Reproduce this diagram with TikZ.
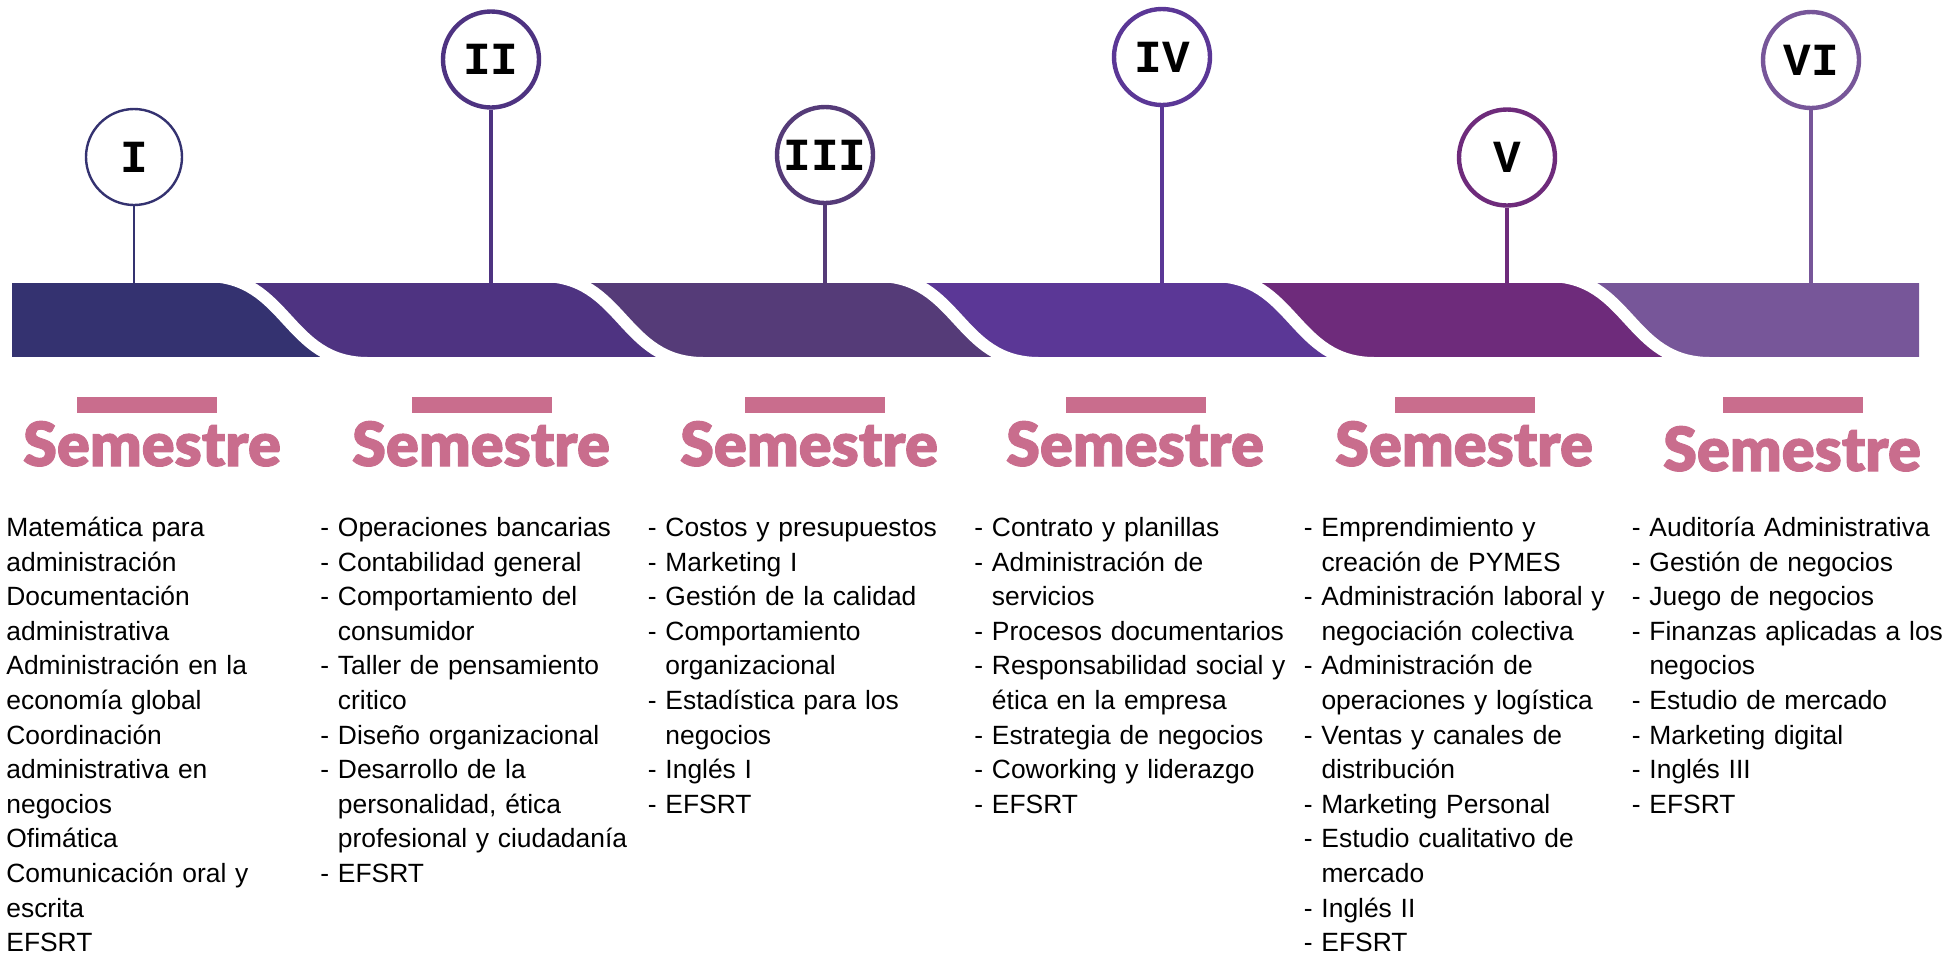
\documentclass[tikz,border=0pt]{standalone}
\usepackage{fontspec}
\setmainfont{Liberation Sans}
\newfontfamily\numfont{Liberation Mono}[BoldFont={* Bold}]
\newfontfamily\semfont{Lato Black}[FakeBold=1.6]
\usetikzlibrary{positioning}

\definecolor{sem-a}{RGB}{52,50,112}
\definecolor{sem-b}{RGB}{78,51,129}
\definecolor{sem-c}{RGB}{85,59,120}
\definecolor{sem-d}{RGB}{91,55,150}
\definecolor{sem-e}{RGB}{110,43,123}
\definecolor{sem-f}{RGB}{119,86,153}
\definecolor{rose}{RGB}{201,109,141}

\newcommand{\contline}{\phantom{- }}

\tikzset{
  ring/.style={circle,draw=#1,fill=white,line width=2.2pt,minimum size=48pt,inner sep=0pt,
               font=\numfont\bfseries\fontsize{23}{23}\selectfont},
  stem/.style={draw=#1,line width=2pt},
  cut/.style={white,line width=6pt},
  rosebar/.style={fill=rose,minimum width=70pt,minimum height=8pt,inner sep=0pt},
  semtitle/.style={text=rose,anchor=base,inner sep=0pt,font=\semfont\fontsize{30.5}{30.5}\selectfont},
  course/.style={anchor=base west,inner sep=0pt,text width=175pt,align=left,
                 font=\fontsize{13.2}{17.3}\selectfont}
}

\begin{document}
\begin{tikzpicture}[x=0.5pt,y=-0.5pt]  %1 unit = 1 px of the sheet, y grows downwards
    \useasboundingbox (0,0) rectangle (1945,955);
    \def\bendlen{162};  \def\bendctl{82};   %s-bend length and control reach

    %--- band of six segments, clipped to its strip
    \begin{scope}
    \clip (12,283) rectangle (1919,356);
    \def\xb{206};
    \fill[sem-a] (0,276) -- (0,363) -- (\xb+\bendlen,363) .. controls (\xb+\bendlen-\bendctl,363) and (\xb+\bendctl,276) .. (\xb,276) -- cycle;

    \def\xa{206};  \def\xb{541.5};
    \fill[sem-b] (\xa,276) .. controls (\xa+\bendctl,276) and (\xa+\bendlen-\bendctl,363) .. (\xa+\bendlen,363)
        -- (\xb+\bendlen,363) .. controls (\xb+\bendlen-\bendctl,363) and (\xb+\bendctl,276) .. (\xb,276) -- cycle;

    \def\xa{541.5};  \def\xb{877};
    \fill[sem-c] (\xa,276) .. controls (\xa+\bendctl,276) and (\xa+\bendlen-\bendctl,363) .. (\xa+\bendlen,363)
        -- (\xb+\bendlen,363) .. controls (\xb+\bendlen-\bendctl,363) and (\xb+\bendctl,276) .. (\xb,276) -- cycle;

    \def\xa{877};  \def\xb{1212.5};
    \fill[sem-d] (\xa,276) .. controls (\xa+\bendctl,276) and (\xa+\bendlen-\bendctl,363) .. (\xa+\bendlen,363)
        -- (\xb+\bendlen,363) .. controls (\xb+\bendlen-\bendctl,363) and (\xb+\bendctl,276) .. (\xb,276) -- cycle;

    \def\xa{1212.5};  \def\xb{1548};
    \fill[sem-e] (\xa,276) .. controls (\xa+\bendctl,276) and (\xa+\bendlen-\bendctl,363) .. (\xa+\bendlen,363)
        -- (\xb+\bendlen,363) .. controls (\xb+\bendlen-\bendctl,363) and (\xb+\bendctl,276) .. (\xb,276) -- cycle;

    \def\xa{1548};
    \fill[sem-f] (\xa,276) .. controls (\xa+\bendctl,276) and (\xa+\bendlen-\bendctl,363) .. (\xa+\bendlen,363)
        -- (1930,363) -- (1930,276) -- cycle;

    %white gaps between the segments
    \foreach \xa in {206,541.5,877,1212.5,1548}
        \draw[cut] (\xa,276) .. controls (\xa+\bendctl,276) and (\xa+\bendlen-\bendctl,363) .. (\xa+\bendlen,363);
    \end{scope}

    %--- markers: ring, stem to the band top
    \node[ring=sem-a,line width=1.2pt] (r1) at (134,157) {I};
    \node[ring=sem-b] (r2) at (491,59.5) {II};
    \node[ring=sem-c] (r3) at (825,155) {III};
    \node[ring=sem-d] (r4) at (1162,57) {IV};
    \node[ring=sem-e] (r5) at (1507,157.5) {V};
    \node[ring=sem-f] (r6) at (1811,60) {VI};
    \coordinate (t1) at (134,283);   \coordinate (t2) at (491,283);
    \coordinate (t3) at (825,283);   \coordinate (t4) at (1162,283);
    \coordinate (t5) at (1507,283);  \coordinate (t6) at (1811,283);
    \draw[stem=sem-a,line width=1.2pt] (r1) -- (t1);
    \draw[stem=sem-b] (r2) -- (t2);
    \draw[stem=sem-c] (r3) -- (t3);
    \draw[stem=sem-d] (r4) -- (t4);
    \draw[stem=sem-e,line width=1.8pt] (r5) -- (t5);
    \draw[stem=sem-f,line width=1.8pt] (r6) -- (t6);

    %--- headings
    \node[rosebar] (b1) at (147,405) {};   \node[semtitle] (h1) at (152,466) {Semestre};
    \node[rosebar] (b2) at (482,405) {};   \node[semtitle] (h2) at (481,466) {Semestre};
    \node[rosebar] (b3) at (815,405) {};   \node[semtitle] (h3) at (809,466) {Semestre};
    \node[rosebar] (b4) at (1136,405) {};  \node[semtitle] (h4) at (1135,466) {Semestre};
    \node[rosebar] (b5) at (1465,405) {};  \node[semtitle] (h5) at (1464,466) {Semestre};
    \node[rosebar] (b6) at (1793,405) {};  \node[semtitle] (h6) at (1792,471) {Semestre};

    %--- course lists
    \node[course] (l1) at (6,536.5) {Matemática para\\administración\\Documentación\\administrativa\\
        Administración en la\\economía global\\Coordinación\\administrativa en\\negocios\\Ofimática\\
        Comunicación oral y\\escrita\\EFSRT};
    \node[course] (l2) at (320,536.5) {- Operaciones bancarias\\- Contabilidad general\\- Comportamiento del\\
        \contline consumidor\\- Taller de pensamiento\\\contline critico\\- Diseño organizacional\\
        - Desarrollo de la\\\contline personalidad, ética\\\contline profesional y ciudadanía\\- EFSRT};
    \node[course] (l3) at (647.5,536.5) {- Costos y presupuestos\\- Marketing I\\- Gestión de la calidad\\
        - Comportamiento\\\contline organizacional\\- Estadística para los\\\contline negocios\\
        - Inglés I\\- EFSRT};
    \node[course] (l4) at (974,536.5) {- Contrato y planillas\\- Administración de\\\contline servicios\\
        - Procesos documentarios\\- Responsabilidad social y\\\contline ética en la empresa\\
        - Estrategia de negocios\\- Coworking y liderazgo\\- EFSRT};
    \node[course] (l5) at (1303.5,536.5) {- Emprendimiento y\\\contline creación de PYMES\\
        - Administración laboral y\\\contline negociación colectiva\\- Administración de\\
        \contline operaciones y logística\\- Ventas y canales de\\\contline distribución\\
        - Marketing Personal\\- Estudio cualitativo de\\\contline mercado\\- Inglés II\\- EFSRT};
    \node[course] (l6) at (1631.5,536.5) {- Auditoría Administrativa\\- Gestión de negocios\\
        - Juego de negocios\\- Finanzas aplicadas a los\\\contline negocios\\- Estudio de mercado\\
        - Marketing digital\\- Inglés III\\- EFSRT};
\end{tikzpicture}
\end{document}
